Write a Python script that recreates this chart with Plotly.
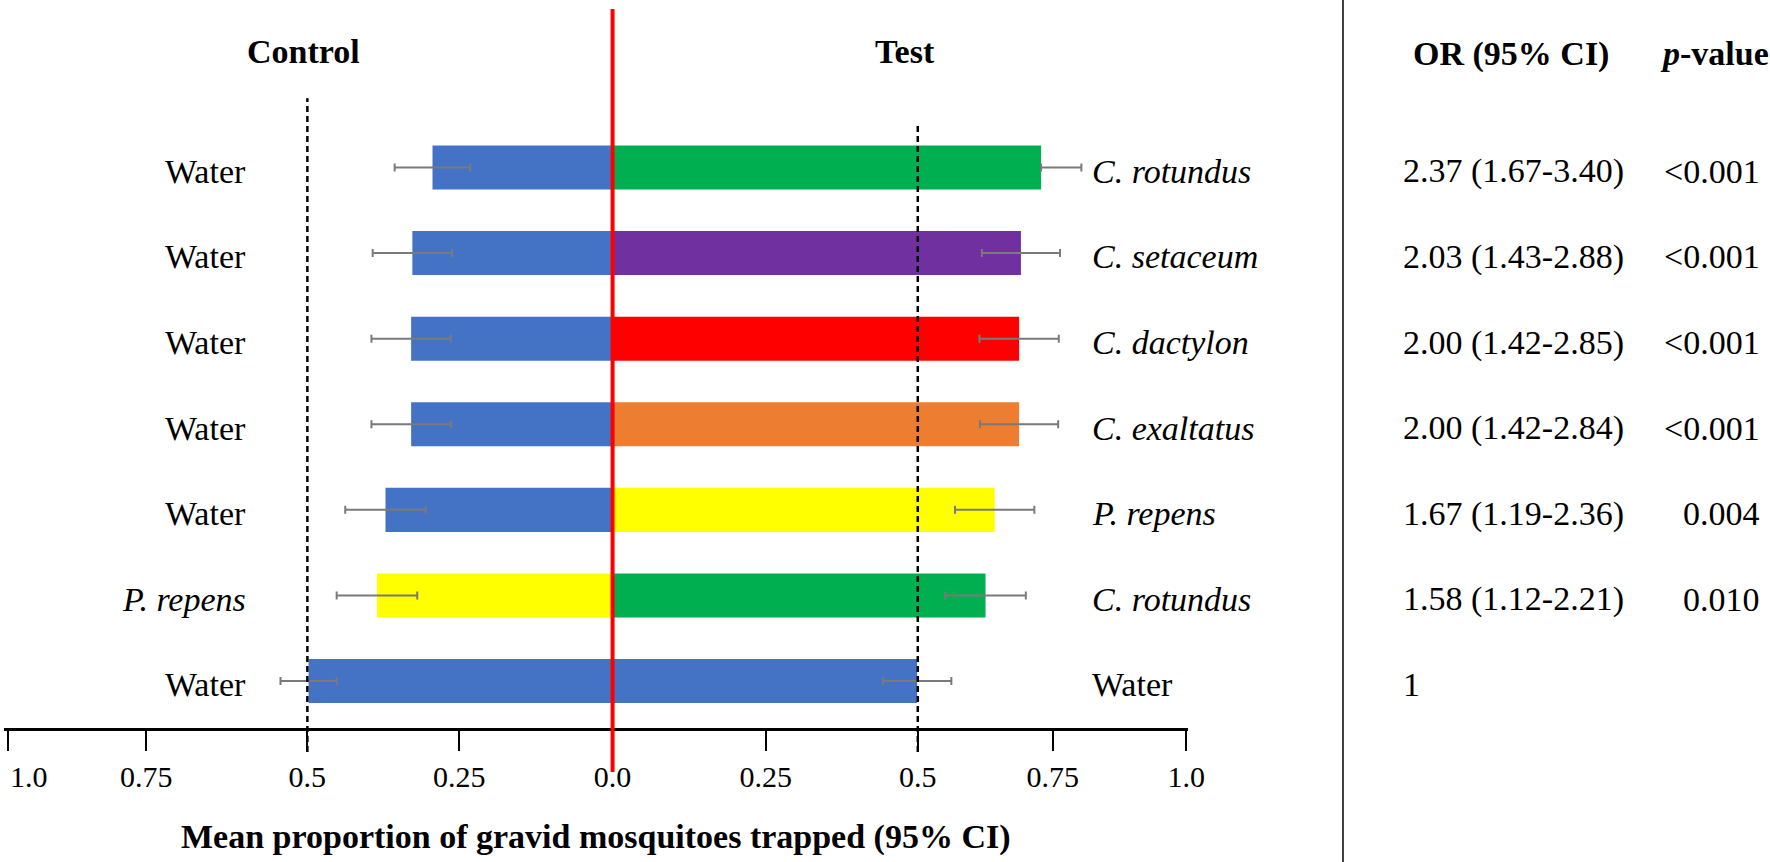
import plotly.graph_objects as go

# ---------------- data ----------------
control_labels = ["Water", "Water", "Water", "Water", "Water", "<i>P. repens</i>", "Water"]
test_labels = ["<i>C. rotundus</i>", "<i>C. setaceum</i>", "<i>C. dactylon</i>", "<i>C. exaltatus</i>",
               "<i>P. repens</i>", "<i>C. rotundus</i>", "Water"]
control_mean = [0.295, 0.328, 0.330, 0.330, 0.372, 0.386, 0.498]
control_err = [0.062, 0.065, 0.065, 0.065, 0.066, 0.066, 0.046]
test_mean = [0.702, 0.669, 0.666, 0.666, 0.626, 0.611, 0.499]
test_err_plus = [0.066, 0.064, 0.065, 0.064, 0.065, 0.066, 0.056]
test_err_minus = [0.0, 0.064, 0.065, 0.064, 0.065, 0.066, 0.056]
control_colors = ["#4472C4", "#4472C4", "#4472C4", "#4472C4", "#4472C4", "#FFFF00", "#4472C4"]
test_colors = ["#00B050", "#7030A0", "#FF0000", "#ED7D31", "#FFFF00", "#00B050", "#4472C4"]
odds_ratio = ["2.37 (1.67-3.40)", "2.03 (1.43-2.88)", "2.00 (1.42-2.85)", "2.00 (1.42-2.84)",
              "1.67 (1.19-2.36)", "1.58 (1.12-2.21)", "1"]
p_values = ["&lt;0.001", "&lt;0.001", "&lt;0.001", "&lt;0.001", "0.004", "0.010", ""]
tick_vals = [-0.99, -0.764, -0.5, -0.251, 0.0, 0.251, 0.5, 0.721, 0.94]
tick_text = ["1.0", "0.75", "0.5", "0.25", "0.0", "0.25", "0.5", "0.75", "1.0"]

n = len(control_mean)
ypos = [n - 1 - i for i in range(n)]

FONT = "Liberation Serif, Times New Roman, serif"
ERRC = "#7a7a7a"
ROW_DY = -0.045

fig = go.Figure()
fig.add_trace(go.Bar(
    y=ypos, x=[-v for v in control_mean], orientation="h", width=0.515,
    marker=dict(color=control_colors, line=dict(width=0)),
    error_x=dict(type="data", array=control_err, symmetric=True,
                 color=ERRC, thickness=2, width=4),
    showlegend=False, hoverinfo="skip"))
fig.add_trace(go.Bar(
    y=ypos, x=test_mean, orientation="h", width=0.515,
    marker=dict(color=test_colors, line=dict(width=0)),
    error_x=dict(type="data", array=test_err_plus, arrayminus=test_err_minus, symmetric=False,
                 color=ERRC, thickness=2, width=4),
    showlegend=False, hoverinfo="skip"))

# reference lines
fig.add_shape(type="line", xref="x", yref="paper", x0=-0.5, x1=-0.5, y0=-0.033, y1=0.865,
              line=dict(color="black", width=2.5, dash="6px,4px"), layer="above")
fig.add_shape(type="line", xref="x", yref="paper", x0=0.5, x1=0.5, y0=-0.033, y1=0.830,
              line=dict(color="black", width=2.5, dash="6px,4px"), layer="above")
fig.add_shape(type="line", xref="x", yref="paper", x0=0, x1=0, y0=-0.0604, y1=0.9876,
              line=dict(color="#FF0000", width=4), layer="above")
fig.add_shape(type="line", xref="paper", yref="paper", x0=1.1309, x1=1.1309, y0=-0.19, y1=1.0,
              line=dict(color="black", width=1.5), layer="above")

ann = []
for i in range(n):
    y = ypos[i] + ROW_DY
    ann.append(dict(x=-0.597, y=y, xref="x", yref="y", text=control_labels[i], showarrow=False,
                    xanchor="right", yanchor="middle", font=dict(size=34, color="black", family=FONT)))
    ann.append(dict(x=0.782, y=y, xref="x", yref="y", text=test_labels[i], showarrow=False,
                    xanchor="left", yanchor="middle", font=dict(size=34, color="black", family=FONT)))
    ann.append(dict(x=1.1799, y=y, xref="paper", yref="y", text=odds_ratio[i], showarrow=False,
                    xanchor="left", yanchor="middle", font=dict(size=34, color="black", family=FONT)))
    if p_values[i]:
        ann.append(dict(x=1.4848, y=y, xref="paper", yref="y", text=p_values[i], showarrow=False,
                        xanchor="right", yanchor="middle", font=dict(size=34, color="black", family=FONT)))

hdr_y = 7.36
ann.append(dict(x=-0.506, y=hdr_y, xref="x", yref="y", text="<b>Control</b>", showarrow=False,
                xanchor="center", yanchor="middle", font=dict(size=34, color="black", family=FONT)))
ann.append(dict(x=0.4795, y=hdr_y, xref="x", yref="y", text="<b>Test</b>", showarrow=False,
                xanchor="center", yanchor="middle", font=dict(size=34, color="black", family=FONT)))
ann.append(dict(x=1.2728, y=hdr_y - 0.03, xref="paper", yref="y", text="<b>OR (95% CI)</b>", showarrow=False,
                xanchor="center", yanchor="middle", font=dict(size=34, color="black", family=FONT)))
ann.append(dict(x=1.4925, y=hdr_y - 0.03, xref="paper", yref="y", text="<b><i>p</i>-value</b>", showarrow=False,
                xanchor="right", yanchor="middle", font=dict(size=34, color="black", family=FONT)))
ann.append(dict(x=0.5, y=-0.1497, xref="paper", yref="paper",
                text="<b>Mean proportion of gravid mosquitoes trapped (95% CI)</b>", showarrow=False,
                xanchor="center", yanchor="middle", font=dict(size=34, color="black", family=FONT)))
# leftmost tick label sits to the right of its tick (as in the reference)
ann.append(dict(x=0.0207, y=-0.0673, xref="paper", yref="paper", text=tick_text[0], showarrow=False,
                xanchor="center", yanchor="middle", font=dict(size=30, color="black", family=FONT)))

fig.update_layout(
    width=1770, height=862,
    margin=dict(l=4, r=582, t=0, b=134, pad=0),
    paper_bgcolor="white", plot_bgcolor="white",
    barmode="overlay",
    annotations=ann,
    font=dict(family=FONT, color="black"),
    xaxis=dict(range=[-0.997, 0.9427], tickmode="array", tickvals=tick_vals,
               ticktext=[""] + tick_text[1:],
               showline=True, linecolor="black", linewidth=2.5, ticks="outside", ticklen=20,
               tickwidth=2, tickcolor="black", showgrid=False, zeroline=False,
               tickfont=dict(size=30, family=FONT, color="black"), fixedrange=True),
    yaxis=dict(range=[-0.549, 7.957], visible=False, showgrid=False, zeroline=False, fixedrange=True),
)

fig.write_html("out.html", config={"displayModeBar": False},
               post_script="document.body.style.margin='0';document.body.style.overflow='hidden';")
